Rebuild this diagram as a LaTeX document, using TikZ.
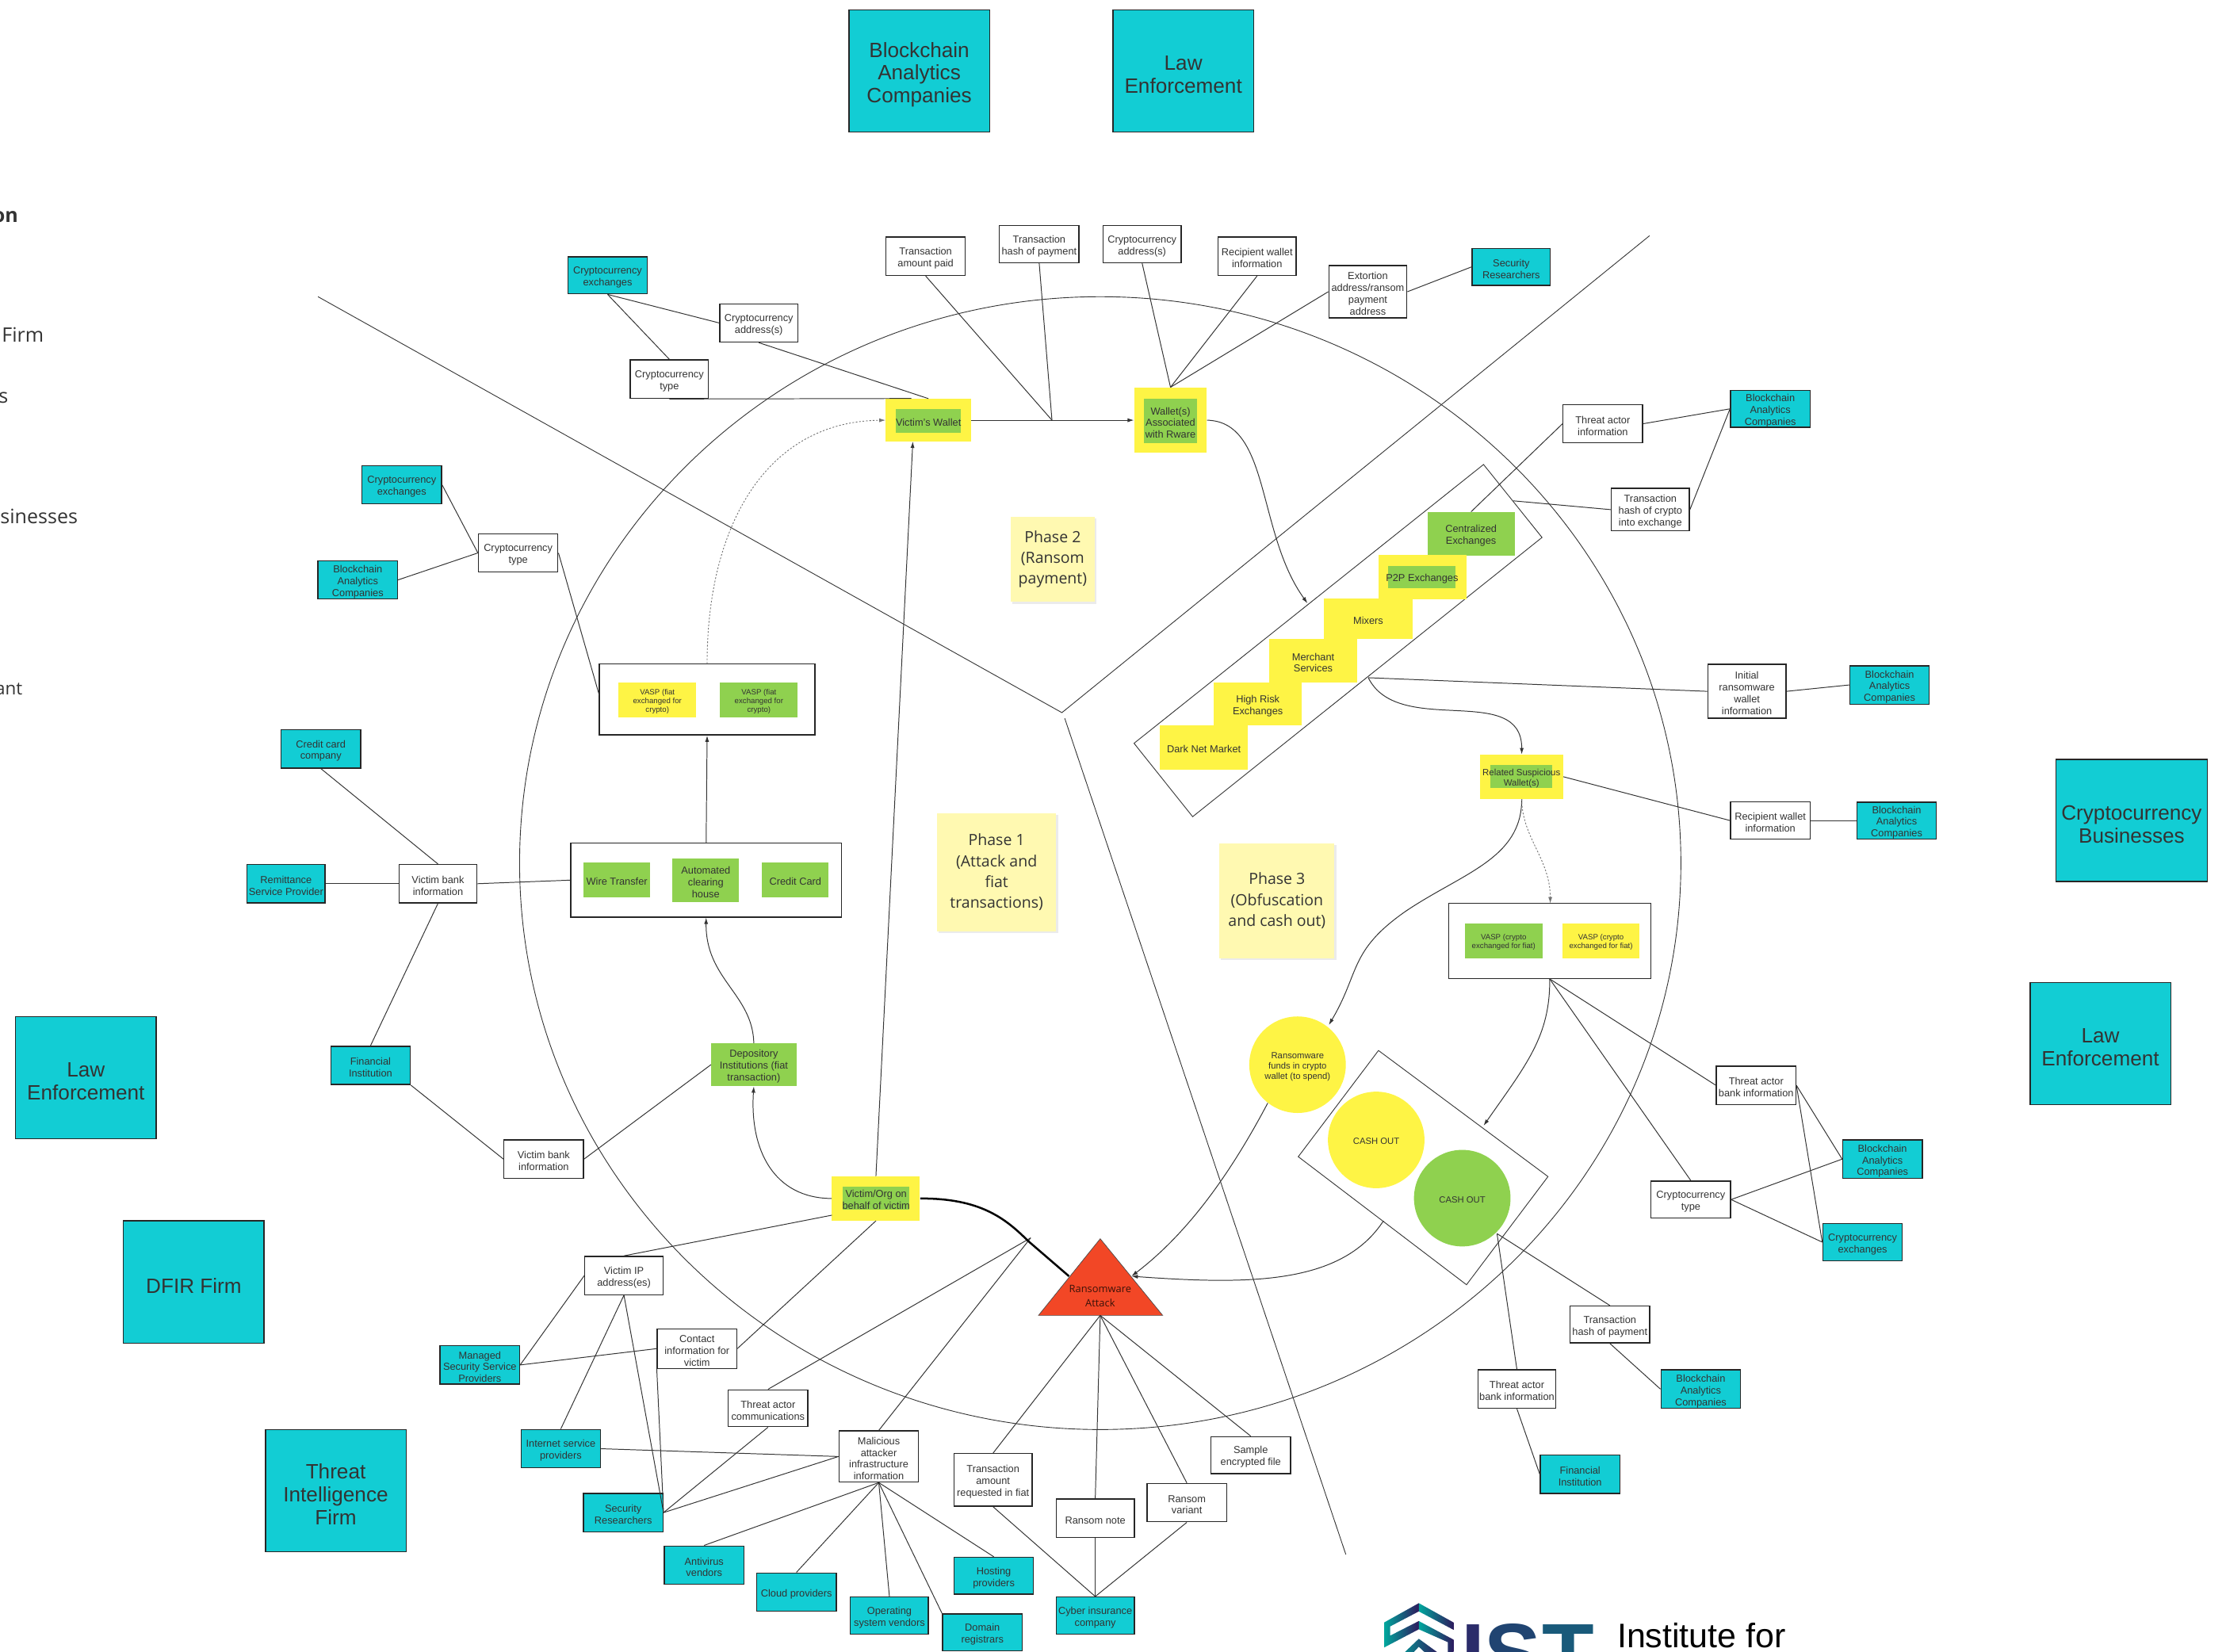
\documentclass[tikz,border=0pt]{standalone}
\usepackage{fontspec}
\setmainfont{Liberation Sans}
\newfontfamily\opensans{Open Sans}
\usetikzlibrary{arrows.meta,calc}
\definecolor{cteal}{HTML}{12CDD4}
\definecolor{cgreen}{HTML}{8FD14F}
\definecolor{cyell}{HTML}{FEF445}
\definecolor{cnote}{HTML}{FFF9B1}
\definecolor{cred}{HTML}{F24726}
\definecolor{cline}{HTML}{333333}
\definecolor{ctxt}{HTML}{333333}
\definecolor{lgteal}{HTML}{00A79D}
\definecolor{lgpurp}{HTML}{2E1A5E}
\newcommand{\bxe}[6]{%
  \pgfmathsetmacro\bcx{(#3+#5)/2}\pgfmathsetmacro\bcy{(#4+#6)/2}%
  \pgfmathsetmacro\bw{#5-#3}\pgfmathsetmacro\bh{#6-#4}%
  \node[#2,minimum width=\bw pt,minimum height=\bh pt] (#1) at (\bcx,\bcy) {};}
\newcommand{\bx}[7]{%
  \bxe{#1}{#2}{#3}{#4}{#5}{#6}%
  \node[#2,draw=none,fill=none,yshift=-\tshiftval] (#1t) at (#1.center) {#7};}
\newcommand{\sm}{\fontsize{7.15}{8.3}\selectfont}
\newcommand{\tshiftval}{0pt}
\tikzset{
  textshift/.store in=\tshiftval,
  basebox/.style={rectangle,inner sep=0pt,align=center,text=ctxt},
  tbox/.style={basebox,fill=cteal,draw=black!85,line width=0.8pt,font=\sm,text=black!80,textshift=1.4pt},
  wbox/.style={basebox,fill=white,draw=black!85,line width=0.75pt,font=\sm,textshift=1.4pt},
  bigteal/.style={basebox,fill=cteal,draw=black!85,line width=0.7pt,text=black!80,font=\fontsize{14.6}{16}\selectfont,textshift=2.6pt},
  gbox/.style={basebox,fill=cgreen,font=\sm,text=black!80,textshift=1.3pt},
  ybox/.style={basebox,fill=cyell,font=\sm,text=black!80,textshift=1.3pt},
  framebox/.style={basebox,fill=white,draw=black!85,line width=0.75pt},
  tiny/.style={font=\fontsize{5.4}{6.2}\selectfont,textshift=1pt},
  notebox/.style={basebox,fill=cnote,font=\opensans\fontsize{10.9}{14.7}\selectfont,textshift=0pt},
  circy/.style={circle,inner sep=0pt,minimum size=68pt,fill=#1},
  circlbl/.style={inner sep=0pt,align=center,text=black!80,font=\fontsize{6.3}{7.2}\selectfont},
  cut/.style={anchor=base east,inner sep=0pt,text=black!80,font=\opensans\fontsize{14}{16}\selectfont},
  conn/.style={draw=cline,line width=0.55pt},
  arr/.style={conn,-{Latex[length=4.5pt,width=2.8pt]}},
  dotarr/.style={draw=black!55,line width=0.5pt,dash pattern=on 1.2pt off 1.2pt,-{Latex[length=4.5pt,width=2.8pt]}},
  frame/.style={draw=black!80,line width=0.5pt},
}
\begin{document}
\begin{tikzpicture}[x=1pt,y=-1pt]
\useasboundingbox (0,0) rectangle (1568,1163.2);
\clip (0,0) rectangle (1568,1163.2);
% large circle and phase dividers
\draw[frame] (775,608) ellipse [x radius=409,y radius=399];
\coordinate (dA) at (224,209);
\coordinate (dB) at (748,502);
\coordinate (dC) at (1162,166);
\coordinate (dD) at (750,506);
\coordinate (dE) at (948,1095);
\draw[frame] (dA) -- (dB) -- (dC);
\draw[frame] (dD) -- (dE);
% parallelograms
\coordinate (pa) at (1045,327.2);
\coordinate (pb) at (1086.2,378.6);
\coordinate (pc) at (840.1,575.3);
\coordinate (pd) at (798.8,523.6);
\draw[frame] (pa) -- (pb) -- (pc) -- (pd) -- cycle;
\coordinate (qa) at (971,740);
\coordinate (qb) at (1090.4,828.8);
\coordinate (qc) at (1033,905);
\coordinate (qd) at (914.5,814.8);
\draw[frame] (qa) -- (qb) -- (qc) -- (qd) -- cycle;
% big teal
\bx{bacTop}{bigteal}{598}{7}{697}{93}{Blockchain\\Analytics\\Companies}
\bx{leTop}{bigteal}{784}{7}{883}{93}{Law\\Enforcement}
\bx{cbRight}{bigteal}{1448}{535}{1555}{621}{Cryptocurrency\\Businesses}
\bx{leRight}{bigteal}{1430}{692}{1529}{778}{Law\\Enforcement}
\bx{leLeft}{bigteal}{11}{716}{110}{802}{Law\\Enforcement}
\bx{dfir}{bigteal}{87}{860}{186}{946}{DFIR Firm}
\bx{tif}{bigteal}{187}{1007}{286}{1093}{Threat\\Intelligence\\Firm}
% clipped side text
\node[cut,font=\opensans\bfseries\fontsize{14}{16}\selectfont] (tOn) at (13,156.5) {on};
\node[cut] (tFirm) at (31,241) {Firm};
\node[cut] (tS) at (6,284) {s};
\node[cut] (tSin) at (55,369) {sinesses};
\node[cut,font=\opensans\fontsize{12.5}{14}\selectfont] (tAnt) at (16,489.5) {ant};
% phase notes
\fill[black!8] (713,365) rectangle (772.5,425.5);
\fill[black!8] (661,574) rectangle (745.5,657.5);
\fill[black!8] (860,595) rectangle (941.5,676.5);
\bx{ph2}{notebox}{712}{364}{771}{424}{Phase 2\\(Ransom\\payment)}
\bx{ph1}{notebox}{660}{573}{744}{656}{Phase 1\\(Attack and\\fiat\\transactions)}
\bx{ph3}{notebox}{859}{594}{940}{675}{Phase 3\\(Obfuscation\\and cash out)}
% teal small
\bx{tCx1}{tbox}{400}{181}{456}{207}{Cryptocurrency\\exchanges}
\bx{tSR1}{tbox}{1037}{175}{1092}{201}{Security\\Researchers}
\bx{tCx2}{tbox}{255}{328}{311}{355}{Cryptocurrency\\exchanges}
\bx{tBA1}{tbox}{224}{395}{280}{422}{Blockchain\\Analytics\\Companies}
\bx{tBA2}{tbox}{1219}{275}{1275}{301}{Blockchain\\Analytics\\Companies}
\bx{tBA3}{tbox}{1303}{469}{1359}{496}{Blockchain\\Analytics\\Companies}
\bx{tBA4}{tbox}{1308}{565}{1364}{591}{Blockchain\\Analytics\\Companies}
\bx{tCC}{tbox}{198}{514}{254}{541}{Credit card\\company}
\bx{tRem}{tbox}{174}{609}{229}{636}{Remittance\\Service Provider}
\bx{tFin1}{tbox}{233}{737}{289}{764}{Financial\\Institution}
\bx{tBA5}{tbox}{1298}{803}{1354}{830}{Blockchain\\Analytics\\Companies}
\bx{tCx3}{tbox}{1284}{862}{1340}{888}{Cryptocurrency\\exchanges}
\bx{tBA6}{tbox}{1170}{965}{1226}{992}{Blockchain\\Analytics\\Companies}
\bx{tFin2}{tbox}{1085}{1025}{1141}{1052}{Financial\\Institution}
\bx{tMSS}{tbox}{310}{948}{366}{975}{Managed\\Security Service\\Providers}
\bx{tISP}{tbox}{367}{1007}{423}{1034}{Internet service\\providers}
\bx{tSR2}{tbox}{411}{1052}{467}{1079}{Security\\Researchers}
\bx{tAV}{tbox}{468}{1089}{524}{1116}{Antivirus\\vendors}
\bx{tCP}{tbox}{533}{1108}{589}{1135}{Cloud providers}
\bx{tOS}{tbox}{599}{1125}{654}{1151}{Operating\\system vendors}
\bx{tDR}{tbox}{664}{1137}{720}{1163}{Domain\\registrars}
\bx{tHP}{tbox}{672}{1097}{728}{1123}{Hosting\\providers}
\bx{tCI}{tbox}{744}{1125}{799}{1151}{Cyber insurance\\company}
% white small
\bx{wAmt}{wbox}{624}{167}{680}{194}{Transaction\\amount paid}
\bx{wHash}{wbox}{704}{159}{760}{185}{Transaction\\hash of payment}
\bx{wAddr}{wbox}{777}{159}{832}{185}{Cryptocurrency\\address(s)}
\bx{wRec}{wbox}{858}{167}{913}{194}{Recipient wallet\\information}
\bx{wExt}{wbox}{936}{187}{991}{224}{Extortion\\address/ransom\\payment\\address}
\bx{wAddr2}{wbox}{507}{214}{562}{241}{Cryptocurrency\\address(s)}
\bx{wTyp1}{wbox}{444}{253.5}{499}{280.7}{Cryptocurrency\\type}
\bx{wTA}{wbox}{1101}{285}{1157}{312}{Threat actor\\information}
\bx{wHX}{wbox}{1135}{344}{1190}{374}{Transaction\\hash of crypto\\into exchange}
\bx{wTyp2}{wbox}{337}{376}{393}{403}{Cryptocurrency\\type}
\bx{wIni}{wbox}{1203}{468}{1258}{506}{Initial\\ransomware\\wallet\\information}
\bx{wRec2}{wbox}{1219}{565}{1275}{591}{Recipient wallet\\information}
\bx{wVB1}{wbox}{281}{609}{336}{636}{Victim bank\\information}
\bx{wTB1}{wbox}{1209}{751}{1265}{778}{Threat actor\\bank information}
\bx{wVB2}{wbox}{355}{803}{411}{830}{Victim bank\\information}
\bx{wTyp3}{wbox}{1163}{832}{1219}{858}{Cryptocurrency\\type}
\bx{wIP}{wbox}{412}{885}{467}{912}{Victim IP\\address(es)}
\bx{wCon}{wbox}{463}{936}{519}{964}{Contact\\information for\\victim}
\bx{wCom}{wbox}{513}{979}{569}{1005}{Threat actor\\communications}
\bx{wHP}{wbox}{1106}{920}{1162}{946}{Transaction\\hash of payment}
\bx{wTB2}{wbox}{1041}{965}{1096}{992}{Threat actor\\bank information}
\bx{wMal}{wbox}{591}{1008}{647}{1044}{Malicious\\attacker\\infrastructure\\information}
\bx{wReq}{wbox}{672}{1024}{727}{1061}{Transaction\\amount\\requested in fiat}
\bx{wSam}{wbox}{853}{1012}{909}{1038}{Sample\\encrypted file}
\bx{wVar}{wbox}{808}{1045}{864}{1072}{Ransom\\variant}
\bx{wNote}{wbox}{744}{1056}{799}{1083}{Ransom note}
% wallets
\bxe{yVW}{ybox}{624}{281}{684}{311}
\bx{gVW}{gbox}{631}{288}{677}{305}{Victim's Wallet}
\bxe{yWA}{ybox}{799}{273}{850}{319}
\bx{gWA}{gbox}{806}{281}{843}{312}{Wallet(s)\\Associated\\with Rware}
% exchange steps
\bx{sCE}{gbox}{1005.4}{360.7}{1067}{391.3}{Centralized\\Exchanges}
\bxe{sP2}{ybox}{971}{391}{1033}{422}
\bx{sP2g}{gbox}{978}{398.7}{1025.4}{414.5}{P2P Exchanges}
\bx{sMx}{ybox}{932.6}{421.6}{995}{450}{Mixers}
\bx{sMS}{ybox}{894}{450}{956}{481}{Merchant\\Services}
\bx{sHR}{ybox}{855}{481}{917}{511}{High Risk\\Exchanges}
\bx{sDN}{ybox}{817}{511}{879}{542}{Dark Net Market}
% related suspicious
\bxe{yRS}{ybox}{1042.8}{531.6}{1101}{562.7}
\bx{gRS}{gbox,font=\fontsize{6.4}{7.3}\selectfont,textshift=1.6pt}{1050}{538.8}{1093.4}{555}{Related Suspicious\\Wallet(s)}
% vasp frames
\bxe{fVF}{framebox}{422.2}{467.8}{574}{517.7}
\bx{vf1}{ybox,tiny}{435.6}{480.8}{490.5}{505.4}{VASP (fiat\\exchanged for\\crypto)}
\bx{vf2}{gbox,tiny}{507.2}{480.8}{562}{505.4}{VASP (fiat\\exchanged for\\crypto)}
\bxe{fWire}{framebox}{402}{594}{592.8}{646}
\bx{gWire}{gbox}{411}{607.6}{458}{632}{Wire Transfer}
\bx{gACH}{gbox}{473.7}{604.8}{520.6}{635.3}{Automated\\clearing\\house}
\bx{gCred}{gbox}{536.8}{607.6}{583.7}{632}{Credit Card}
\bxe{fVC}{framebox}{1020.4}{636.4}{1162.8}{689.2}
\bx{vc1}{gbox,tiny}{1031.8}{650.5}{1086.5}{675}{VASP (crypto\\exchanged for fiat)}
\bx{vc2}{ybox,tiny}{1100.5}{650.5}{1155}{675}{VASP (crypto\\exchanged for fiat)}
% depository and victim
\bx{gDep}{gbox}{501}{735}{561}{765}{Depository\\Institutions (fiat\\transaction)}
\bxe{yVO}{ybox}{586}{828.7}{648}{859.8}
\bx{gVO}{gbox}{593.8}{836}{640.5}{852}{Victim/Org on\\behalf of victim}
% circles
\node[circy=cyell] (cRF) at (914,750) {};
\node[circlbl] (cRFt) at (914,751.5) {Ransomware\\funds in crypto\\wallet (to spend)};
\node[circy=cyell] (cC1) at (969.4,803) {};
\node[circlbl] (cC1t) at (969.4,804) {CASH OUT};
\node[circy=cgreen] (cC2) at (1030,844) {};
\node[circlbl] (cC2t) at (1030,845) {CASH OUT};
% triangle
\coordinate (triA) at (775,872.6);
\coordinate (triB) at (819,926.6);
\coordinate (triC) at (731.5,926.6);
\coordinate (triS) at (775,926.6);
\fill[cred,draw=black!70,line width=0.4pt] (triA) -- (triB) -- (triC) -- cycle;
\node[font=\opensans\fontsize{7.2}{10}\selectfont,text=black!75!cred,align=center,inner sep=0pt] (tRA) at (775,912.8) {Ransomware\\Attack};
% named free ends
\coordinate (jPay) at (741,296);
\coordinate (jMal) at (726,872);
\coordinate (wBot) at (643,311);
\coordinate (wTopL) at (642,280.7);
\coordinate (pIn) at (921,425);
\coordinate (pHash) at (1066,352.8);
\coordinate (pOut) at (963.8,477.4);
\coordinate (qIn) at (1045,793);
\coordinate (qOut) at (974.5,860);
\coordinate (qLn) at (1054.5,869);
\coordinate (triR) at (797,899);
\coordinate (triL) at (753,899);
\coordinate (fVFw) at (422.2,490);
\coordinate (rfS) at (893,777);
\coordinate (rfN) at (936,722);
\coordinate (voW) at (586,856);
\coordinate (wArr) at (1092,636.4);
% connectors
\begin{scope}[every path/.style={conn}]
\draw (tCx1.south) -- (wAddr2.west);
\draw (tCx1.south) -- (wTyp1.north);
\draw (wAddr2.south) -- (yVW.north);
\draw (wTyp1.south) -- (wTopL);
\draw (wAmt.south) -- (jPay);
\draw (wHash.south) -- (jPay);
\draw (wAddr.south) -- (yWA.north);
\draw (wRec.south) -- (yWA.north);
\draw (wExt.west) -- (yWA.north);
\draw (wExt.east) -- (tSR1.west);
\draw (wTA.west) -- (sCE.north);
\draw (wTA.east) -- (tBA2.west);
\draw (wHX.west) -- (pHash);
\draw (wHX.east) -- (tBA2.west);
\draw (pOut) -- (wIni.west);
\draw (wIni.east) -- (tBA3.west);
\draw (yRS.east) -- (wRec2.west);
\draw (wRec2.east) -- (tBA4.west);
\draw (fVC.south) -- (wTB1.west);
\draw (fVC.south) -- (wTyp3.north);
\draw (wTB1.east) -- (tBA5.west);
\draw (wTB1.east) -- (tCx3.west);
\draw (wTyp3.east) -- (tBA5.west);
\draw (wTyp3.east) -- (tCx3.west);
\draw (qLn) -- (wHP.north);
\draw (qLn) -- (wTB2.north);
\draw (wHP.south) -- (tBA6.west);
\draw (wTB2.south) -- (tFin2.west);
\draw (wTyp2.west) -- (tCx2.east);
\draw (wTyp2.west) -- (tBA1.east);
\draw (wTyp2.east) -- (fVFw);
\draw (wVB1.east) -- (fWire.west);
\draw (wVB1.west) -- (tRem.east);
\draw (wVB1.north) -- (tCC.south);
\draw (wVB1.south) -- (tFin1.north);
\draw (tFin1.south east) -- (wVB2.west);
\draw (wVB2.east) -- (gDep.west);
\draw (voW) -- (wIP.north);
\draw (yVO.south) -- (wCon.east);
\draw (wIP.west) -- (tMSS.east);
\draw (wCon.west) -- (tMSS.east);
\draw (wIP.south) -- (tISP.north);
\draw (wIP.south) -- (tSR2.east);
\draw (wCon.south west) -- (tSR2.east);
\draw (jMal) -- (wCom.north);
\draw (jMal) -- (wMal.north);
\draw (wCom.south) -- (tSR2.east);
\draw (wMal.west) -- (tISP.east);
\draw (wMal.west) -- (tSR2.east);
\draw (wMal.south) -- (tAV.north);
\draw (wMal.south) -- (tCP.north);
\draw (wMal.south) -- (tOS.north);
\draw (wMal.south) -- (tDR.north west);
\draw (wMal.south) -- (tHP.north);
\draw (triS) -- (wReq.north);
\draw (triS) -- (wNote.north);
\draw (triS) -- (wVar.north);
\draw (triS) -- (wSam.north);
\draw (wReq.south) -- (tCI.north);
\draw (wNote.south) -- (tCI.north);
\draw (wVar.south) -- (tCI.north);
\end{scope}
\draw[arr] (yVW.east) -- (yWA.west);
\draw[arr] (yVO.north) -- (wBot);
\draw[arr] (yWA.east) .. controls (895,297) and (885,375) .. (pIn);
\draw[arr] (pOut) .. controls (985,520) and (1072,480) .. (yRS.north);
\draw[arr] (yRS.south) .. controls (1072,605) and (1030,615) .. (990,642) .. controls (950,670) and (958,685) .. (rfN);
\draw[dotarr] (yRS.south) .. controls (1072,590) and (1092,605) .. (wArr);
\draw[arr] (fVC.south) .. controls (1092,730) and (1075,750) .. (qIn);
\draw[arr] (qOut) .. controls (945,905) and (880,905) .. (triR);
\draw[arr] (rfS) .. controls (865,830) and (835,870) .. (triR);
\draw[arr] (yVO.west) .. controls (545,844) and (528,810) .. (gDep.south);
\draw[arr] (gDep.north) .. controls (530,700) and (497,690) .. (fWire.south);
\draw[arr] (fWire.north) -- (fVF.south);
\draw[dotarr] (fVF.north) .. controls (498,370) and (540,297) .. (yVW.west);
\draw[draw=black,line width=1.4pt] (yVO.east) .. controls (690,844) and (708,858) .. (724,874) -- (triL);
% logo
\path[shade,left color=lgteal,right color=lgpurp] (975,1142.9) -- (999.4,1129.3) -- (999.4,1135.1) -- (979.2,1145.7) -- (979.2,1152.2) -- (999.4,1141.9) -- (999.4,1147.7) -- (975,1160.5) -- cycle;
\path[shade,left color=lgteal,right color=lgpurp] (999.4,1129.3) -- (1023.9,1142.9) -- (1023.9,1148.1) -- (999.4,1135.1) -- cycle;
\path[shade,left color=lgteal,right color=lgpurp] (999.4,1141.9) -- (1023.9,1155) -- (1023.9,1170) -- (1019.9,1170) -- (1019.9,1156.8) -- (999.4,1147.7) -- cycle;
\path[shade,left color=lgteal,right color=lgpurp] (983,1170) -- (999.4,1154.4) -- (1014,1165) -- (1014,1170) -- (1010,1170) -- (999.4,1160) -- (990,1170) -- cycle;
\node[anchor=base west,inner sep=0pt,font=\bfseries\fontsize{60}{60}\selectfont,text=lgpurp!90!cteal] (logoI) at (1029,1186) {I};
\node[anchor=base west,inner sep=0pt,font=\bfseries\fontsize{60}{60}\selectfont,text=lgpurp!70!lgteal] (logoS) at (1045.5,1186) {S};
\node[anchor=base west,inner sep=0pt,font=\bfseries\fontsize{60}{60}\selectfont,text=lgpurp!55!lgteal] (logoT) at (1086,1186) {T};
\node[anchor=base west,inner sep=0pt,font=\fontsize{24}{26}\selectfont,text=black] (logoTx) at (1139,1160.5) {Institute for};
\end{tikzpicture}
\end{document}
